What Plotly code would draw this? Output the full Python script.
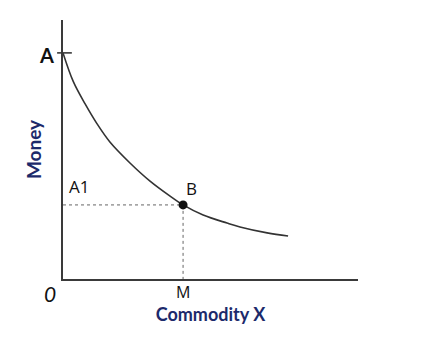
import plotly.graph_objects as go

# Curve (data units: x 0..10, y 0..10)
curve_x = [0.0, 0.35, 0.75, 1.15, 1.59, 2.27, 2.95, 3.63, 4.07, 4.75, 5.56, 6.0, 6.92, 7.63]
curve_y = [8.73, 7.62, 6.76, 6.00, 5.29, 4.48, 3.78, 3.20, 2.86, 2.47, 2.16, 2.01, 1.78, 1.66]

point_b = (4.07, 2.86)
a_level = 8.73

x_label = "Commodity X"
y_label = "Money"

navy = "#1c2a6b"
axis_col = "#3a3a3a"

fig = go.Figure()

fig.add_trace(go.Scatter(x=curve_x, y=curve_y, mode="lines",
                         line=dict(color="#333333", width=1.6, shape="spline", smoothing=1.0),
                         hoverinfo="skip"))
# dotted guides
fig.add_trace(go.Scatter(x=[0, point_b[0], point_b[0]], y=[point_b[1], point_b[1], 0],
                         mode="lines", line=dict(color="#666666", width=1, dash="dot"),
                         hoverinfo="skip"))
fig.add_trace(go.Scatter(x=[point_b[0]], y=[point_b[1]], mode="markers",
                         marker=dict(color="#111111", size=9), cliponaxis=False,
                         hoverinfo="skip"))

# tick at A
fig.add_shape(type="line", xref="paper", yref="y", x0=-0.02, x1=0.03,
              y0=a_level, y1=a_level, line=dict(color=axis_col, width=1.6))

lab_font = dict(family="Open Sans, Arial", size=17, color="#111111")
fig.add_annotation(x=-0.025, y=0.865, xref="paper", yref="paper", text="<b>A</b>",
                   showarrow=False, xanchor="right", yanchor="middle",
                   font=dict(family="Lato", size=20, color="#111111"))
fig.add_annotation(x=0.012, y=point_b[1] + 0.2, xref="paper", yref="y", text="A1",
                   showarrow=False, xanchor="left", yanchor="bottom", font=lab_font)
fig.add_annotation(x=point_b[0] + 0.02, y=point_b[1] + 0.1, xref="x", yref="y", text="B",
                   showarrow=False, xanchor="left", yanchor="bottom", font=lab_font)
fig.add_annotation(x=point_b[0], y=0, xref="x", yref="y", yshift=0, text="M", showarrow=False,
                   xanchor="center", yanchor="top",
                   font=dict(family="Open Sans, Arial", size=16, color="#111111"))
fig.add_annotation(x=-0.044, y=0, xref="paper", yref="paper", yshift=0, text="<i>0</i>",
                   showarrow=False, xanchor="center", yanchor="top",
                   font=dict(family="Lato", size=21, color="#111111"))

fig.update_layout(
    width=441, height=338,
    margin=dict(l=63, r=83, t=20, b=59),
    paper_bgcolor="white", plot_bgcolor="white",
    showlegend=False,
    xaxis=dict(range=[0, 10], showgrid=False, zeroline=False, showticklabels=False,
               ticks="", showline=True, linecolor=axis_col, linewidth=2,
               title=dict(text=x_label, standoff=28,
                          font=dict(family="Lato", size=18, color=navy, weight="bold"))),
    yaxis=dict(range=[0, 10], showgrid=False, zeroline=False, showticklabels=False,
               ticks="", showline=True, linecolor=axis_col, linewidth=2,
               title=dict(text=y_label, standoff=14,
                          font=dict(family="Lato", size=19, color=navy, weight="bold"))),
)

fig.write_html("out.html")
